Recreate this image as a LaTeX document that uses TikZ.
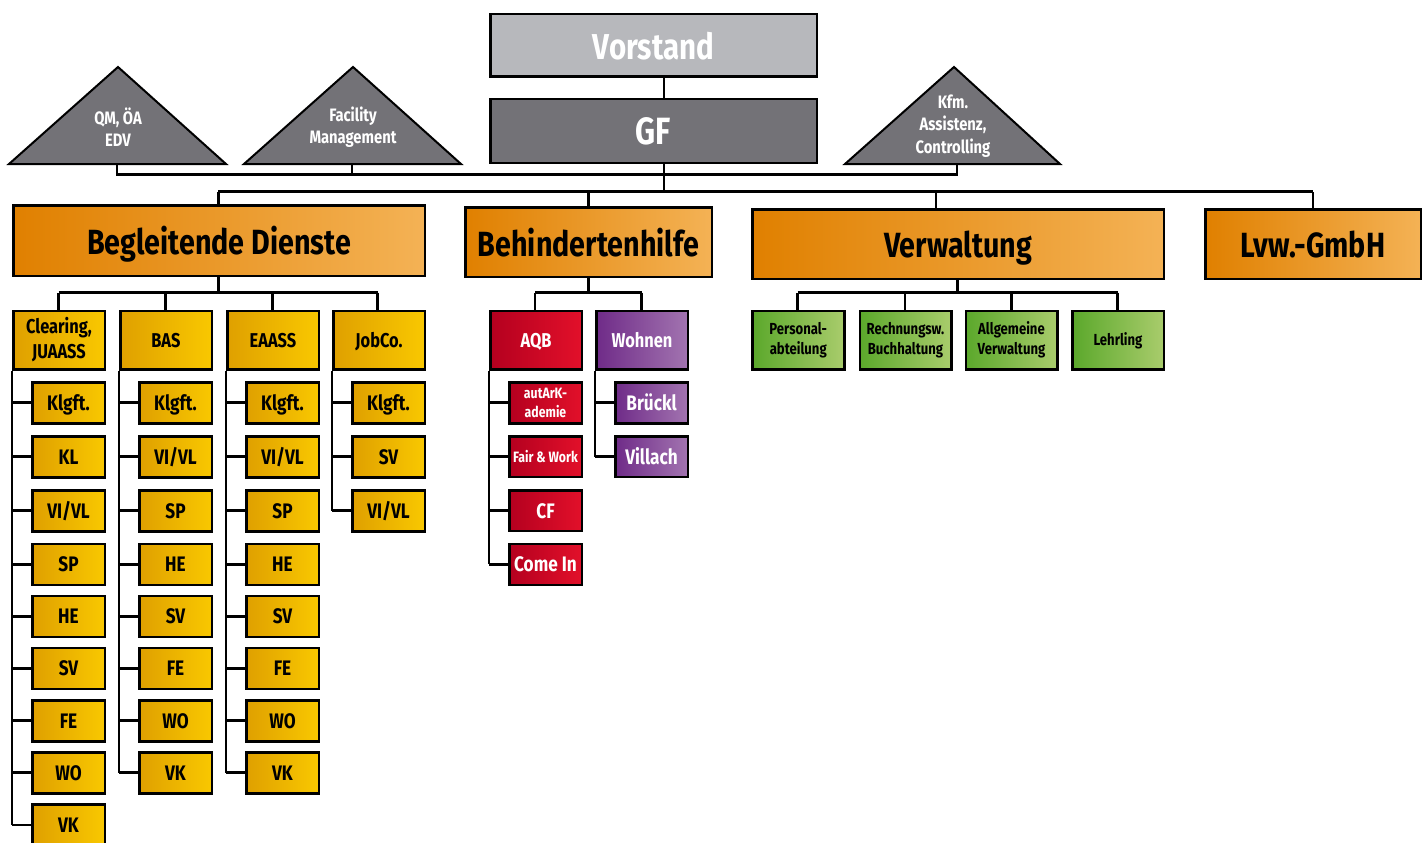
\documentclass[tikz,border=0pt]{standalone}
\usepackage{fontspec}
\setmainfont{Fira Sans}[FakeStretch=0.82]
\definecolor{vgray}{HTML}{B7B8BC}
\definecolor{dgray}{HTML}{737277}
\definecolor{orA}{HTML}{E08000}
\definecolor{orB}{HTML}{F4B255}
\definecolor{yeA}{HTML}{DFA000}
\definecolor{yeB}{HTML}{F9C800}
\definecolor{reA}{HTML}{B4001F}
\definecolor{reB}{HTML}{E2102A}
\definecolor{puA}{HTML}{6F2B88}
\definecolor{puB}{HTML}{A274B0}
\definecolor{grA}{HTML}{5BA82B}
\definecolor{grB}{HTML}{A9CC6C}
\newcommand\fs[2]{\fontsize{#1}{#2}\selectfont}
\newcommand\orgbox[7]{%
  \pgfmathsetmacro\bxw{#5-#3-2.5}\pgfmathsetmacro\bxh{#6-#4-2.5}%
  \node[#2, minimum width=\bxw pt, minimum height=\bxh pt] (#1) at ({(#3+#5)/2},{(#4+#6)/2}) {#7};}
\tikzset{
  box/.style={draw=black, line width=2.5pt, inner sep=0pt, align=center, font=\bfseries, text depth=0pt},
  multi/.style={text height={}, text depth={}},
  topbox/.style={box, fill=vgray, text=white, font=\bfseries\fs{36}{40}},
  gfbox/.style={box, fill=dgray, text=white, font=\bfseries\fs{38}{40}},
  lvtwo/.style={box, left color=orA, right color=orB, font=\bfseries\fs{35}{40}},
  yel/.style={box, left color=yeA, right color=yeB, font=\bfseries\fs{21}{26}, text height=15pt},
  redb/.style={box, left color=reA, right color=reB, text=white, font=\bfseries\fs{21}{26}, text height=15pt},
  purb/.style={box, left color=puA, right color=puB, text=white, font=\bfseries\fs{21}{26}, text height=15pt},
  grnb/.style={box, left color=grA, right color=grB, font=\bfseries\fs{16}{20}, text height=11pt},
  tri/.style={draw=black, line width=2pt, fill=dgray, line join=miter},
  tritext/.style={text=white, font=\bfseries\fs{18}{22.5}, align=center, inner sep=0pt},
  conn/.style={draw=black, line width=2.8pt},
}
\begin{document}
\begin{tikzpicture}[x=1pt,y=-1pt]
\useasboundingbox (0,0) rectangle (1428,843);
% top
\orgbox{vor}{topbox}{489}{13}{818}{78}{Vorstand}
\orgbox{gf}{gfbox}{489}{98}{818}{164}{GF}
% triangles
\draw[tri] (9,164) -- (118,67) -- (226,164) -- cycle;
\draw[tri] (244,164) -- (353,67) -- (461,164) -- cycle;
\draw[tri] (845,164) -- (954,67) -- (1060,164) -- cycle;
\node[tritext] (qm) at (118,127) {QM, ÖA\\EDV};
\node[tritext] (fm) at (353,127) {Facility\\Management};
\node[tritext] (kfm) at (953,126) {Kfm.\\Assistenz,\\Controlling};
\coordinate (qmb) at (117,164);
\coordinate (fmb) at (352,164);
\coordinate (kfmb) at (957,164);
% level 2
\orgbox{bd}{lvtwo}{12}{204}{426}{277}{Begleitende Dienste}
\orgbox{bh}{lvtwo}{464}{206}{713}{278}{Behindertenhilfe}
\orgbox{vw}{lvtwo}{751}{208}{1165}{280}{Verwaltung}
\orgbox{lg}{lvtwo}{1204}{208}{1422}{280}{Lvw.-GmbH}
% connectors top
\draw[conn] ([xshift=10.5pt]vor.south) -- ([xshift=10.5pt]gf.north);
\coordinate (gfb) at (664,164);
\draw[conn] (qmb) -- (117,174.5) -| (kfmb);
\draw[conn] (fmb) -- (352,174.5);
\draw[conn] (gfb) -- (664,191.7);
\draw[conn] (218.3,191.7) -- (1313,191.7);
\draw[conn] (bd.north -| 218.3,0) -- (218.3,191.7);
\draw[conn] (bh.north) -- (bh.north |- 0,191.7);
\draw[conn] (vw.north -| 936,0) -- (936,191.7);
\draw[conn] (lg.north -| 1313,0) -- (1313,191.7);
% level 3 Begleitende Dienste
\orgbox{clr}{yel, multi, font=\bfseries\fs{20}{25}}{12}{309.5}{106}{370.5}{Clearing,\\JUAASS}
\orgbox{bas}{yel, font=\bfseries\fs{20}{26}}{119}{309.5}{213}{370.5}{BAS}
\orgbox{eaa}{yel, font=\bfseries\fs{20}{26}}{226}{309.5}{320}{370.5}{EAASS}
\orgbox{job}{yel, font=\bfseries\fs{20}{26}}{332}{309.5}{426}{370.5}{JobCo.}
\draw[conn] (bd.south -| 218.3,0) -- (218.3,292.7);
\draw[conn] (58.5,292.7) -- (377.7,292.7);
\foreach \n/\x in {clr/58.5,bas/165.7,eaa/272.3,job/377.7}
  \draw[conn] (\x,292.7) -- (\n.north -| \x,0);
% Clearing
\foreach \t [count=\i] in {Klgft.,KL,VI/VL,SP,HE,SV,FE,WO,VK}{
  \pgfmathsetmacro\yt{{381,435,489,542.7,594.7,646.7,699,751,803.3}[\i-1]}
  \orgbox{c\i}{yel}{31}{\yt}{106}{\yt+43.5}{\t}
  \draw[conn] (clr.south west |- c\i.west) -- (c\i.west);
}
\draw[conn] (clr.south west) -- (clr.south west |- c9.west);
% BAS
\foreach \t [count=\i] in {Klgft.,VI/VL,SP,HE,SV,FE,WO,VK}{
  \pgfmathsetmacro\yt{{381,435,489,542.7,594.7,646.7,699,751,803.3}[\i-1]}
  \orgbox{b\i}{yel}{138}{\yt}{213}{\yt+43.5}{\t}
  \draw[conn] (bas.south west |- b\i.west) -- (b\i.west);
}
\draw[conn] (bas.south west) -- (bas.south west |- b8.west);
% EAASS
\foreach \t [count=\i] in {Klgft.,VI/VL,SP,HE,SV,FE,WO,VK}{
  \pgfmathsetmacro\yt{{381,435,489,542.7,594.7,646.7,699,751,803.3}[\i-1]}
  \orgbox{e\i}{yel}{245}{\yt}{320}{\yt+43.5}{\t}
  \draw[conn] (eaa.south west |- e\i.west) -- (e\i.west);
}
\draw[conn] (eaa.south west) -- (eaa.south west |- e8.west);
% JobCo
\foreach \t [count=\i] in {Klgft.,SV,VI/VL}{
  \pgfmathsetmacro\yt{{381,435,489}[\i-1]}
  \orgbox{j\i}{yel}{351}{\yt}{426}{\yt+43.5}{\t}
  \draw[conn] (job.south west |- j\i.west) -- (j\i.west);
}
\draw[conn] (job.south west) -- (job.south west |- j3.west);
% Behindertenhilfe
\orgbox{aqb}{redb, font=\bfseries\fs{20}{26}}{489}{309.5}{583}{370.5}{AQB}
\orgbox{woh}{purb, font=\bfseries\fs{20}{26}}{595}{309.5}{689}{370.5}{Wohnen}
\draw[conn] (bh.south) -- (bh.south |- 0,292.7);
\draw[conn] (535,292.7) -- (641.7,292.7);
\draw[conn] (535,292.7) -- (aqb.north -| 535,0);
\draw[conn] (641.7,292.7) -- (woh.north -| 641.7,0);
\orgbox{a1}{redb, multi, font=\bfseries\fs{15}{19}}{508}{381}{583}{424.5}{autArK-\\ademie}
\orgbox{a2}{redb, font=\bfseries\fs{15}{19}, text height=11pt}{508}{435}{583}{478}{Fair \& Work}
\orgbox{a3}{redb}{508}{489}{583}{532}{CF}
\orgbox{a4}{redb}{508}{542.7}{583}{586}{Come In}
\foreach \i in {1,...,4}
  \draw[conn] (aqb.south west |- a\i.west) -- (a\i.west);
\draw[conn] (aqb.south west) -- (aqb.south west |- a4.west);
\orgbox{w1}{purb}{614}{381}{689}{424.5}{Brückl}
\orgbox{w2}{purb}{614}{435}{689}{478}{Villach}
\foreach \i in {1,2}
  \draw[conn] (woh.south west |- w\i.west) -- (w\i.west);
\draw[conn] (woh.south west) -- (woh.south west |- w2.west);
% Verwaltung
\orgbox{g1}{grnb, multi}{751}{309.5}{845.5}{370.5}{Personal-\\abteilung}
\orgbox{g2}{grnb, multi}{858.5}{309.5}{952.5}{370.5}{Rechnungsw.\\Buchhaltung}
\orgbox{g3}{grnb, multi}{964.5}{309.5}{1058.5}{370.5}{Allgemeine\\Verwaltung}
\orgbox{g4}{grnb}{1071}{309.5}{1165}{370.5}{Lehrling}
\draw[conn] (vw.south -| 957.7,0) -- (957.7,292.7);
\draw[conn] (797.7,292.7) -- (1117.7,292.7);
\foreach \n/\x in {g1/797.7,g2/905,g3/1011.3,g4/1117.7}
  \draw[conn] (\x,292.7) -- (\n.north -| \x,0);
\end{tikzpicture}
\end{document}
